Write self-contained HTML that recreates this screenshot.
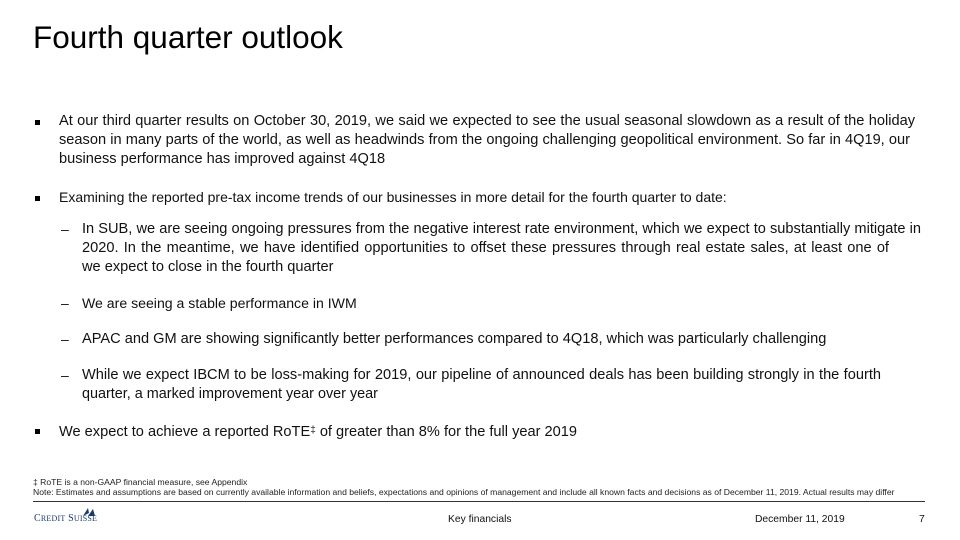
<!DOCTYPE html>
<html><head><meta charset="utf-8"><style>
body{margin:0;width:960px;height:540px;background:#fff;position:relative;overflow:hidden;font-family:"Liberation Sans",sans-serif;color:#111}
.t{position:absolute;left:33px;top:19px;font-size:31.5px;white-space:nowrap;color:#000}
.l{position:absolute;font-size:14.6px;line-height:19px;white-space:nowrap}
.j{text-align:justify;text-align-last:justify;white-space:normal;overflow:hidden;height:19px}
.b{position:absolute;left:35px;width:5px;height:5px;background:#000}
.d{position:absolute;left:61px;font-size:14px;line-height:19px}
.f{position:absolute;left:33px;font-size:8.6px;white-space:nowrap;color:#222}
</style></head><body>
<div class="t">Fourth quarter outlook</div>

<div class="b" style="top:120px"></div>
<div class="l j" style="left:59px;top:112px;width:856px">At our third quarter results on October 30, 2019, we said we expected to see the usual seasonal slowdown as a result of the holiday</div>
<div class="l j" style="left:59px;top:131px;width:851px">season in many parts of the world, as well as headwinds from the ongoing challenging geopolitical environment. So far in 4Q19, our</div>
<div class="l" style="left:59px;top:150px">business performance has improved against 4Q18</div>

<div class="b" style="top:196px"></div>
<div class="l" style="left:59px;top:188px;font-size:14px">Examining the reported pre-tax income trends of our businesses in more detail for the fourth quarter to date:</div>

<div class="d" style="top:220px">–</div>
<div class="l j" style="left:82px;top:220px;width:839px">In SUB, we are seeing ongoing pressures from the negative interest rate environment, which we expect to substantially mitigate in</div>
<div class="l j" style="left:82px;top:239px;width:807px">2020. In the meantime, we have identified opportunities to offset these pressures through real estate sales, at least one of which</div>
<div class="l" style="left:82px;top:258px">we expect to close in the fourth quarter</div>

<div class="d" style="top:294px">–</div>
<div class="l" style="left:82px;top:294px;font-size:14.1px">We are seeing a stable performance in IWM</div>

<div class="d" style="top:330px">–</div>
<div class="l" style="left:82px;top:330px">APAC and GM are showing significantly better performances compared to 4Q18, which was particularly challenging</div>

<div class="d" style="top:366px">–</div>
<div class="l j" style="left:82px;top:366px;width:799px">While we expect IBCM to be loss-making for 2019, our pipeline of announced deals has been building strongly in the fourth</div>
<div class="l" style="left:82px;top:385px;font-size:14.4px">quarter, a marked improvement year over year</div>

<div class="b" style="top:429px"></div>
<div class="l" style="left:59px;top:421px">We expect to achieve a reported RoTE<span style="font-size:10px;vertical-align:3px">‡</span> of greater than 8% for the full year 2019</div>

<div class="f" style="top:477px">‡ RoTE is a non-GAAP financial measure, see Appendix</div>
<div class="f" style="top:487px">Note: Estimates and assumptions are based on currently available information and beliefs, expectations and opinions of management and include all known facts and decisions as of December 11, 2019. Actual results may differ</div>
<div style="position:absolute;left:33px;top:501px;width:892px;height:1px;background:#333"></div>

<div style="position:absolute;left:34px;top:513px;font-family:'Liberation Serif',serif;font-size:10px;color:#1a3a6a;letter-spacing:0.2px">C<span style="font-size:8px">REDIT</span> S<span style="font-size:8px">UISSE</span></div>
<svg style="position:absolute;left:82px;top:507px" width="14" height="10"><path d="M1 9 L6 1 L7 6 Z M6 9 L11 2 L13 9 Z" fill="#1a3a6a"/></svg>
<div style="position:absolute;left:448px;top:514px;font-size:10.3px">Key financials</div>
<div style="position:absolute;left:755px;top:514px;font-size:10.3px">December 11, 2019</div>
<div style="position:absolute;left:919px;top:514px;font-size:10.3px">7</div>
</body></html>
